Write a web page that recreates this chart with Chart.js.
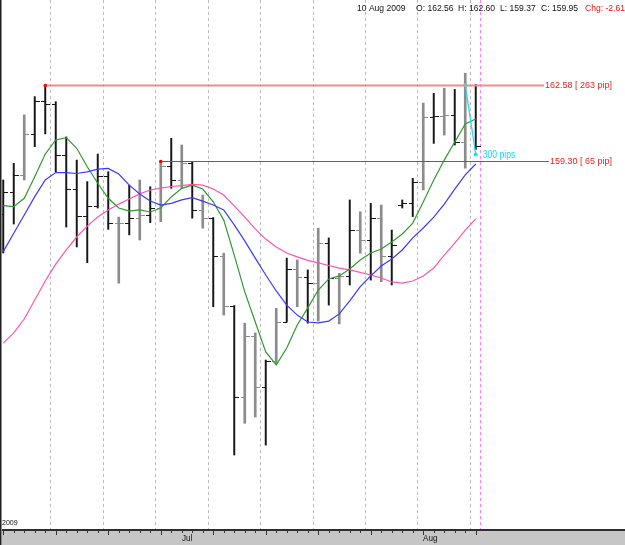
<!DOCTYPE html>
<html>
<head>
<meta charset="utf-8">
<script src="https://cdn.jsdelivr.net/npm/chart.js@4/dist/chart.umd.min.js"></script>
<style>
  html, body { margin: 0; padding: 0; background: #fff; }
  canvas { display: block; }
</style>
</head>
<body>
<canvas id="priceChart" width="625" height="545"></canvas>
<script>
// 交易日 (daily bars, 8 Jun - 10 Aug 2009)
var dates = [
  '2009-06-08', '2009-06-09', '2009-06-10', '2009-06-11', '2009-06-12',
  '2009-06-15', '2009-06-16', '2009-06-17', '2009-06-18', '2009-06-19',
  '2009-06-22', '2009-06-23', '2009-06-24', '2009-06-25', '2009-06-26',
  '2009-06-29', '2009-06-30', '2009-07-01', '2009-07-02', '2009-07-03',
  '2009-07-06', '2009-07-07', '2009-07-08', '2009-07-09', '2009-07-10',
  '2009-07-13', '2009-07-14', '2009-07-15', '2009-07-16', '2009-07-17',
  '2009-07-20', '2009-07-21', '2009-07-22', '2009-07-23', '2009-07-24',
  '2009-07-27', '2009-07-28', '2009-07-29', '2009-07-30', '2009-07-31',
  '2009-08-03', '2009-08-04', '2009-08-05', '2009-08-06', '2009-08-07',
  '2009-08-10'
];

var opens = [
  157.00, 157.95, 158.70, 160.45, 161.90, 161.76, 159.56, 158.09, 156.93, 157.36,
  158.67, 156.61, 156.63, 156.85, 156.97, 157.26, 159.08, 158.48, 159.23, 157.19,
  156.83, 155.20, 153.04, 149.13, 151.76, 149.56, 150.68, 152.36, 154.64, 154.28,
  154.02, 155.75, 154.24, 154.34, 156.32, 155.89, 156.83, 155.21, 157.40, 157.47,
  158.41, 161.20, 161.26, 161.30, 160.13, 162.56
];
var highs = [
  158.48, 159.20, 161.29, 162.08, 162.58, 161.86, 160.34, 159.34, 158.41, 159.60,
  158.84, 156.88, 158.26, 158.48, 158.19, 159.30, 160.28, 159.99, 159.27, 157.83,
  156.86, 155.32, 153.06, 152.30, 151.88, 150.71, 152.94, 155.11, 155.03, 154.60,
  156.40, 155.98, 154.45, 157.62, 157.11, 157.47, 157.40, 156.32, 157.62, 158.55,
  161.80, 162.22, 162.44, 162.39, 163.09, 162.60
];
var lows = [
  155.33, 156.58, 158.48, 159.92, 160.47, 158.84, 156.45, 155.59, 154.91, 157.27,
  156.35, 154.03, 156.11, 155.89, 156.64, 156.68, 158.12, 158.13, 156.83, 156.40,
  153.01, 152.65, 146.61, 147.98, 148.25, 147.04, 150.57, 152.35, 153.01, 152.30,
  152.39, 153.08, 152.27, 153.95, 155.32, 154.16, 154.09, 153.95, 157.27, 156.90,
  158.05, 160.06, 160.42, 159.99, 158.99, 159.80
];
var closes = [
  157.95, 158.70, 160.45, 161.90, 161.76, 159.56, 158.09, 156.93, 157.36, 158.67,
  156.61, 156.63, 156.85, 156.97, 157.26, 159.08, 158.48, 159.23, 157.19, 156.83,
  155.20, 153.04, 149.13, 151.76, 149.56, 150.68, 152.36, 154.64, 154.28, 154.02,
  155.75, 154.24, 154.34, 156.32, 155.89, 156.83, 155.21, 155.67, 157.47, 158.41,
  161.20, 161.26, 161.30, 160.13, 162.56, 159.95
];

// 均线
var maFast = [
  157.37, 157.33, 157.69, 158.62, 159.60, 160.21, 160.31, 159.85, 159.05, 158.34,
  157.69, 157.27, 157.14, 157.19, 157.10, 157.27, 157.75, 158.12, 158.26, 158.09,
  157.54, 156.75, 155.24, 153.65, 152.35, 151.06, 150.50, 151.23, 152.22, 152.96,
  153.73, 154.21, 154.34, 154.64, 155.03, 155.33, 155.50, 155.80, 156.15, 156.62,
  157.53, 158.48, 159.34, 160.12, 160.90, 161.11
];
var maMid = [
  155.39, 156.18, 156.97, 157.76, 158.48, 158.80, 158.80, 158.76, 158.83, 158.95,
  158.98, 158.74, 158.26, 157.88, 157.57, 157.40, 157.47, 157.62, 157.72, 157.57,
  157.40, 157.19, 156.54, 155.85, 155.11, 154.38, 153.69, 153.08, 152.65, 152.35,
  152.31, 152.39, 152.70, 153.26, 153.88, 154.34, 154.77, 155.07, 155.46, 155.98,
  156.41, 156.88, 157.44, 158.09, 158.70, 159.17
];
var maSlow = [
  151.44, 151.88, 152.48, 153.30, 154.12, 154.85, 155.46, 156.02, 156.49, 156.88,
  157.19, 157.44, 157.66, 157.88, 158.05, 158.13, 158.20, 158.24, 158.29, 158.26,
  158.09, 157.83, 157.36, 156.88, 156.37, 155.93, 155.59, 155.33, 155.16, 155.01,
  154.90, 154.79, 154.68, 154.60, 154.49, 154.38, 154.25, 154.08, 154.03, 154.12,
  154.34, 154.68, 155.24, 155.76, 156.32, 156.80
];

// 水平线 / 测量线
var levelPrices = [162.58, 159.30];
var levelFrom = [4, 15];
var levelLabels = ['162.58 [ 263 pip]', '159.30 [ 65 pip]'];
var measureBars = [44, 45];
var measurePrices = [162.58, 159.58];
var measureLabel = '300 pips';

var headerParts = ['10 Aug 2009', 'O: 162.56', 'H: 162.60', 'L: 159.37', 'C: 159.95', 'Chg: -2.61'];
var monthNames = ['Jan', 'Feb', 'Mar', 'Apr', 'May', 'Jun', 'Jul', 'Aug', 'Sep', 'Oct', 'Nov', 'Dec'];

// bars drawn in the lighter shade
var greyBars = [2, 11, 13, 15, 17, 19, 21, 23, 24, 26, 28, 30, 32, 34, 36, 40, 42, 44];

var FONT = '"Liberation Sans", Arial, sans-serif';
var lastIdx = dates.length - 1;

function dayOf(s) { return new Date(s + 'T00:00:00Z'); }

// week separators (before every Monday) + current-bar marker
var gridValues = [];
dates.forEach(function (d, i) {
  if (i > 0 && dayOf(d).getUTCDay() === 1) gridValues.push(i - 0.5);
});
gridValues.push(lastIdx + 0.5);

function barData(grey) {
  var out = [];
  dates.forEach(function (d, i) {
    if ((greyBars.indexOf(i) >= 0) === grey) out.push({ x: i, y: [lows[i], highs[i]] });
  });
  return out;
}
function lineData(arr) {
  return arr.map(function (v, i) { return { x: i, y: v }; });
}

// narrow text like the original terminal font
function narrowText(c, text, x, y, squeeze) {
  c.save();
  c.translate(x, y);
  c.scale(squeeze, 1);
  c.fillText(text, 0, 0);
  c.restore();
}

// 开盘/收盘 小横线
var ohlcTicks = {
  id: 'ohlcTicks',
  afterDatasetDraw: function (chart, args) {
    var ds = chart.data.datasets[args.index];
    if (ds.type !== 'bar') return;
    var c = chart.ctx, xs = chart.scales.x, ys = chart.scales.y;
    c.save();
    c.strokeStyle = ds.backgroundColor;
    c.lineWidth = 1;
    c.beginPath();
    ds.data.forEach(function (d) {
      var i = d.x;
      var x = Math.round(xs.getPixelForValue(i));
      var yo = Math.round(ys.getPixelForValue(opens[i])) + 0.5;
      var yc = Math.round(ys.getPixelForValue(closes[i])) + 0.5;
      c.moveTo(x - 4, yo); c.lineTo(x, yo);
      c.moveTo(x, yc); c.lineTo(x + 5, yc);
    });
    c.stroke();
    c.restore();
  }
};

// 水平线和标签
var levels = {
  id: 'levels',
  afterDatasetsDraw: function (chart) {
    var c = chart.ctx, xs = chart.scales.x, ys = chart.scales.y;
    var lineColors = ['#f48a8a', '#e82828'];
    var lineWidths = [1.8, 1];
    c.save();
    c.font = '9px ' + FONT;
    c.textBaseline = 'middle';
    levelPrices.forEach(function (p, k) {
      var y = Math.round(ys.getPixelForValue(p)) + 0.5;
      var x0 = xs.getPixelForValue(levelFrom[k]);
      var w = c.measureText(levelLabels[k]).width;
      var tx = 612 - w;
      c.strokeStyle = lineColors[k];
      c.lineWidth = lineWidths[k];
      c.beginPath();
      c.moveTo(x0, y);
      c.lineTo(tx - 1, y);
      c.stroke();
      c.fillStyle = '#ff0000';
      c.beginPath();
      c.arc(x0, y, 1.8, 0, Math.PI * 2);
      c.fill();
      c.fillStyle = '#f02020';
      c.fillText(levelLabels[k], tx, y);
    });
    // measure label
    var mx = xs.getPixelForValue(measureBars[1]);
    var my = ys.getPixelForValue(measurePrices[1]);
    c.font = '10px ' + FONT;
    c.fillStyle = '#19d9f0';
    narrowText(c, measureLabel, mx + 7, my + 1, 0.86);
    c.restore();
  }
};

// 底部时间轴, 标题栏, 左边框
var chrome = {
  id: 'chrome',
  afterDraw: function (chart) {
    var c = chart.ctx, xs = chart.scales.x, area = chart.chartArea;
    var top = area.bottom;
    c.save();
    c.fillStyle = '#c6c6c6';
    c.fillRect(0, top, chart.width, chart.height - top);
    c.fillStyle = '#2e2e2e';
    c.fillRect(0, top, chart.width, 2);
    c.fillStyle = '#333';
    dates.forEach(function (d, i) {
      var x = Math.round(xs.getPixelForValue(i));
      var len = dayOf(d).getUTCDay() === 1 ? 4 : 2;
      c.fillRect(x, top + 2, 1, len);
    });
    c.font = '9px ' + FONT;
    c.textBaseline = 'middle';
    c.fillStyle = '#111';
    dates.forEach(function (d, i) {
      if (i > 0 && dayOf(d).getUTCMonth() !== dayOf(dates[i - 1]).getUTCMonth()) {
        var x = Math.round(xs.getPixelForValue(i));
        narrowText(c, monthNames[dayOf(d).getUTCMonth()], x, top + 10, 0.9);
      }
    });
    // year
    c.font = '7px ' + FONT;
    c.textBaseline = 'alphabetic';
    c.fillText(String(dayOf(dates[0]).getUTCFullYear()), 2, top - 4);
    // header
    var hx = [357, 416, 458, 500, 541, 585];
    c.font = '9.5px ' + FONT;
    headerParts.forEach(function (t, k) {
      c.fillStyle = k === headerParts.length - 1 ? '#f01010' : '#111';
      narrowText(c, t, hx[k], 10.5, 0.9);
    });
    // left frame
    c.fillStyle = '#222';
    c.fillRect(0, 0, 1, chart.height);
    c.fillStyle = '#8a8a8a';
    c.fillRect(1, 0, 1, chart.height);
    c.restore();
  }
};

var ctx = document.getElementById('priceChart').getContext('2d');
var chart = new Chart(ctx, {
  type: 'bar',
  data: {
    datasets: [
      { type: 'bar', data: barData(false), backgroundColor: '#161616', barThickness: 1.3, grouped: false, borderWidth: 0, order: 3 },
      { type: 'bar', data: barData(true), backgroundColor: '#8c8c8c', barThickness: 2, grouped: false, borderWidth: 0, order: 3 },
      { type: 'line', data: lineData(maSlow), borderColor: '#ff55aa', borderWidth: 1.2, pointRadius: 0, tension: 0, fill: false, order: 2 },
      { type: 'line', data: lineData(maMid), borderColor: '#3a3aff', borderWidth: 1.2, pointRadius: 0, tension: 0, fill: false, order: 1 },
      { type: 'line', data: lineData(maFast), borderColor: '#2f9a2f', borderWidth: 1.2, pointRadius: 0, tension: 0, fill: false, order: 1 },
      {
        type: 'line',
        data: measureBars.map(function (b, k) { return { x: b, y: measurePrices[k] }; }),
        borderColor: '#19e0f5', borderWidth: 1.3, pointRadius: 2, pointHoverRadius: 2,
        pointBackgroundColor: '#19e0f5', pointBorderWidth: 0, tension: 0, fill: false, order: 0
      }
    ]
  },
  options: {
    responsive: false,
    animation: false,
    layout: { padding: 0, autoPadding: false },
    plugins: { legend: { display: false }, tooltip: { enabled: false } },
    scales: {
      x: {
        type: 'linear',
        min: -3.25 / 10.5,
        max: (625 - 3.25) / 10.5,
        offset: false,
        afterBuildTicks: function (scale) {
          scale.ticks = gridValues.map(function (v) { return { value: v }; });
        },
        afterFit: function (scale) { scale.height = 16; },
        ticks: { display: false },
        grid: {
          offset: false,
          drawTicks: false,
          lineWidth: 1,
          color: function (c) {
            return c.tick && c.tick.value > lastIdx ? '#ff7dff' : '#bcbcbc';
          }
        },
        border: { display: false, dash: [3, 3] }
      },
      y: {
        display: false,
        beginAtZero: false,
        min: 143.417,
        max: 166.249
      }
    }
  },
  plugins: [ohlcTicks, levels, chrome]
});
</script>
</body>
</html>
